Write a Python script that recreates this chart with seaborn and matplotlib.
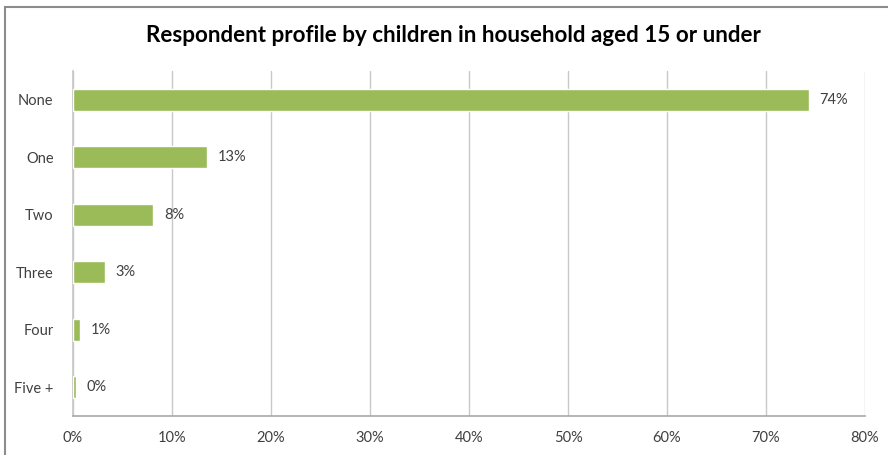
import matplotlib
matplotlib.use("Agg")
import matplotlib.pyplot as plt
import seaborn as sns
import pandas as pd
from matplotlib.patches import Rectangle

categories = ["None", "One", "Two", "Three", "Four", "Five +"]
values = [74.3, 13.5, 8.1, 3.2, 0.7, 0.3]
value_labels = ["74%", "13%", "8%", "3%", "1%", "0%"]
x_ticks = [0, 10, 20, 30, 40, 50, 60, 70, 80]
x_tick_labels = [f"{t}%" for t in x_ticks]
title = "Respondent profile by children in household aged 15 or under"

sns.set_theme(style="white")
plt.rcParams["font.family"] = ["Lato", "DejaVu Sans"]

df = pd.DataFrame({"cat": categories, "val": values})

fig = plt.figure(figsize=(8.88, 4.55), dpi=100)
ax = fig.add_axes([73/888, 1-416/455, (865-73)/888, (416-71)/455])

sns.barplot(data=df, y="cat", x="val", orient="h", color="#9BBB59",
            saturation=1, width=0.39, ax=ax, zorder=3)

ax.set_xlim(0, 80)
ax.set_ylim(5.5, -0.5)
ax.set_xticks(x_ticks)
ax.set_xticklabels(x_tick_labels, fontsize=10.5, color="#404040")
ax.tick_params(axis="y", labelsize=10.5, labelcolor="#404040", length=0, pad=14)
ax.tick_params(axis="x", length=0, pad=11)
ax.set_xlabel("")
ax.set_ylabel("")
ax.grid(axis="x", color="#C8C8C8", linewidth=1, zorder=0)
ax.grid(axis="y", visible=False)
for s in ["top", "right"]:
    ax.spines[s].set_visible(False)
ax.spines["left"].set_color("#C8C8C8")
ax.spines["bottom"].set_color("#A8A8A8")
ax.spines["bottom"].set_linewidth(1.2)

for i, (v, lab) in enumerate(zip(values, value_labels)):
    ax.text(v + 1.1, i, lab, va="center", ha="left", fontsize=10.5, color="#404040")

fig.text(453/888, 1-35/455, title, ha="center", va="center",
         fontsize=16.1, fontweight="bold", color="#000000")

# figure frame (top and left visible)
fig.patches.append(Rectangle((5/888, -0.05), 1.2, 1-7/455+0.05,
                             transform=fig.transFigure, fill=False,
                             edgecolor="#8C8C8C", linewidth=1.5, zorder=0))

fig.savefig("out.png", dpi=100)
